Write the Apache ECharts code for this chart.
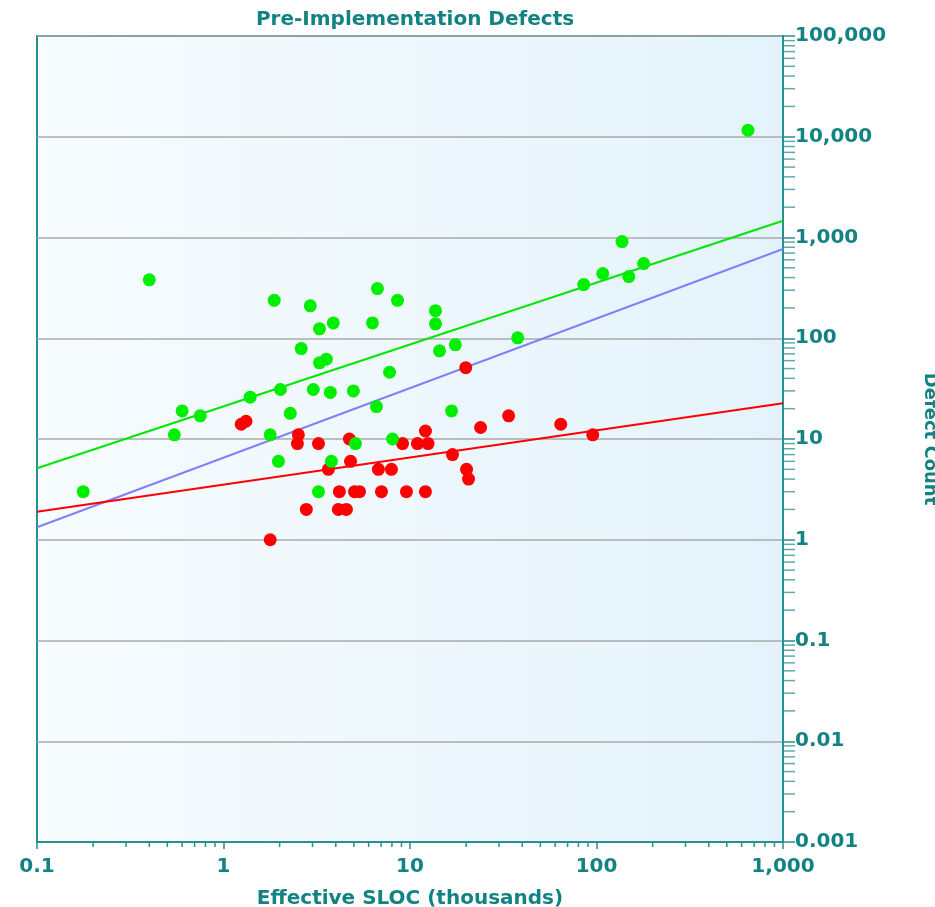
<!DOCTYPE html>
<html>
<head>
<meta charset="utf-8">
<script src="https://cdn.jsdelivr.net/npm/echarts@6/dist/echarts.min.js"></script>
<style>
html,body{margin:0;padding:0;background:#ffffff;}
#chart{width:935px;height:907px;}
</style>
</head>
<body>
<div id="chart"></div>
<script>
// ---- Data ----
var greenX = [0.177, 0.40, 0.545, 0.60, 0.75, 1.39, 1.78, 1.87, 1.97, 2.02, 2.28, 2.61, 2.92, 3.03, 3.23, 3.27, 3.27, 3.56, 3.74, 3.79, 3.88, 4.97, 5.10, 6.29, 6.61, 6.69, 7.77, 8.06, 8.57, 13.7, 13.7, 14.4, 16.7, 17.5, 37.8, 85.4, 108, 137, 149, 179, 649];
var greenY = [3, 380, 11, 19, 17, 26, 11, 238, 6, 31, 18, 79, 210, 31, 3, 124, 57, 62, 29, 6, 142, 30, 9, 142, 21, 311, 46, 10, 238, 188, 139, 75, 19, 86, 101, 341, 439, 912, 409, 551, 11600];

var redX = [1.245, 1.32, 1.78, 2.49, 2.52, 2.78, 3.23, 3.65, 4.13, 4.18, 4.56, 4.73, 4.80, 5.04, 5.36, 6.77, 7.03, 7.95, 9.12, 9.57, 10.96, 12.1, 12.1, 12.5, 16.9, 19.9, 20.1, 20.6, 23.9, 33.8, 64.3, 95.5];
var redY = [14, 15, 1, 9, 11, 2, 9, 5, 2, 3, 2, 10, 6, 3, 3, 5, 3, 5, 9, 3, 9, 12, 3, 9, 7, 51, 5, 4, 13, 17, 14, 11];

var fitX = [0.1, 1000];
var greenFit = [5.12, 1468];
var blueFit = [1.33, 769];
var redFit = [1.90, 22.6];

var xTickLabels = ['0.1', '1', '10', '100', '1,000'];
var yTickLabels = ['0.001', '0.01', '0.1', '1', '10', '100', '1,000', '10,000', '100,000'];

// ---- Build helpers ----
function zip(a, b) { return a.map(function (v, i) { return [v, b[i]]; }); }

var teal = '#138282';
var axisTeal = '#2a8f8f';
var font = 'DejaVu Sans';

// minor tick positions (axis decorations)
var minorTicks = [];
for (var k = -3; k <= 4; k++) {
  for (var m = 2; m <= 9; m++) {
    minorTicks.push([1000, m * Math.pow(10, k), 0]);
  }
}
for (var k2 = -1; k2 <= 2; k2++) {
  for (var m2 = 2; m2 <= 9; m2++) {
    minorTicks.push([m2 * Math.pow(10, k2), 0.001, 1]);
  }
}

var chart = echarts.init(document.getElementById('chart'), null, { renderer: 'canvas' });

var option = {
  animation: false,
  title: {
    text: 'Pre-Implementation Defects',
    left: 410,
    top: 5,
    textAlign: 'center',
    textStyle: { color: teal, fontFamily: font, fontWeight: 'bold', fontSize: 20 }
  },
  grid: {
    left: 37, right: 152, top: 36, bottom: 65,
    outerBoundsMode: 'none',
    containLabel: false,
    show: true,
    borderColor: axisTeal,
    borderWidth: 2,
    backgroundColor: {
      type: 'linear', x: 0, y: 0, x2: 1, y2: 0,
      colorStops: [{ offset: 0, color: '#f7fcfe' }, { offset: 1, color: '#e4f3fb' }]
    }
  },
  xAxis: {
    type: 'log',
    logBase: 10,
    min: 0.1,
    max: 1000,
    splitNumber: 4,
    name: 'Effective SLOC (thousands)',
    nameLocation: 'middle',
    nameGap: 47,
    nameTextStyle: { color: teal, fontFamily: font, fontWeight: 'bold', fontSize: 20 },
    axisLine: { show: true, lineStyle: { color: axisTeal, width: 2 } },
    axisTick: { show: true, inside: false, length: 7, lineStyle: { color: axisTeal, width: 1.5 } },
    axisLabel: {
      color: teal, fontFamily: font, fontWeight: 'bold', fontSize: 20, margin: 15,
      formatter: function (v) { return xTickLabels[Math.round(Math.log10(v)) + 1]; }
    },
    splitLine: { show: false }
  },
  yAxis: {
    type: 'log',
    logBase: 10,
    position: 'right',
    min: 0.001,
    max: 100000,
    splitNumber: 8,
    name: 'Defect Count',
    nameLocation: 'middle',
    nameRotate: -90,
    nameGap: 138,
    nameTextStyle: { color: teal, fontFamily: font, fontWeight: 'bold', fontSize: 18 },
    axisLine: { show: true, lineStyle: { color: axisTeal, width: 2 } },
    axisTick: { show: true, inside: false, length: 12, lineStyle: { color: axisTeal, width: 1.5 } },
    axisLabel: {
      color: teal, fontFamily: font, fontWeight: 'bold', fontSize: 20, margin: 12,
      formatter: function (v) { return yTickLabels[Math.round(Math.log10(v)) + 3]; }
    },
    splitLine: { show: true, lineStyle: { color: '#aaaaaa', width: 1.5 } }
  },
  series: [
    {
      type: 'custom',
      silent: true,
      clip: false,
      z: 1,
      data: minorTicks,
      renderItem: function (params, api) {
        var p = api.coord([api.value(0), api.value(1)]);
        var vertical = api.value(2) === 1;
        return {
          type: 'line',
          shape: vertical
            ? { x1: p[0], y1: p[1], x2: p[0], y2: p[1] + 5 }
            : { x1: p[0], y1: p[1], x2: p[0] + 12, y2: p[1] },
          style: { stroke: axisTeal, lineWidth: 1.5, opacity: vertical ? 1 : 0.75 }
        };
      }
    },
    {
      type: 'line', data: zip(fitX, greenFit), showSymbol: false, silent: true, z: 2,
      lineStyle: { color: '#00e600', width: 2 }
    },
    {
      type: 'line', data: zip(fitX, blueFit), showSymbol: false, silent: true, z: 2,
      lineStyle: { color: '#8080ff', width: 2 }
    },
    {
      type: 'line', data: zip(fitX, redFit), showSymbol: false, silent: true, z: 2,
      lineStyle: { color: '#ff0000', width: 2 }
    },
    {
      type: 'scatter', data: zip(redX, redY), symbol: 'circle', symbolSize: 13, z: 3,
      itemStyle: { color: '#ff0000', opacity: 1 }
    },
    {
      type: 'scatter', data: zip(greenX, greenY), symbol: 'circle', symbolSize: 13, z: 4,
      itemStyle: { color: '#00ee00', opacity: 1 }
    }
  ]
};

chart.setOption(option);
</script>
</body>
</html>
